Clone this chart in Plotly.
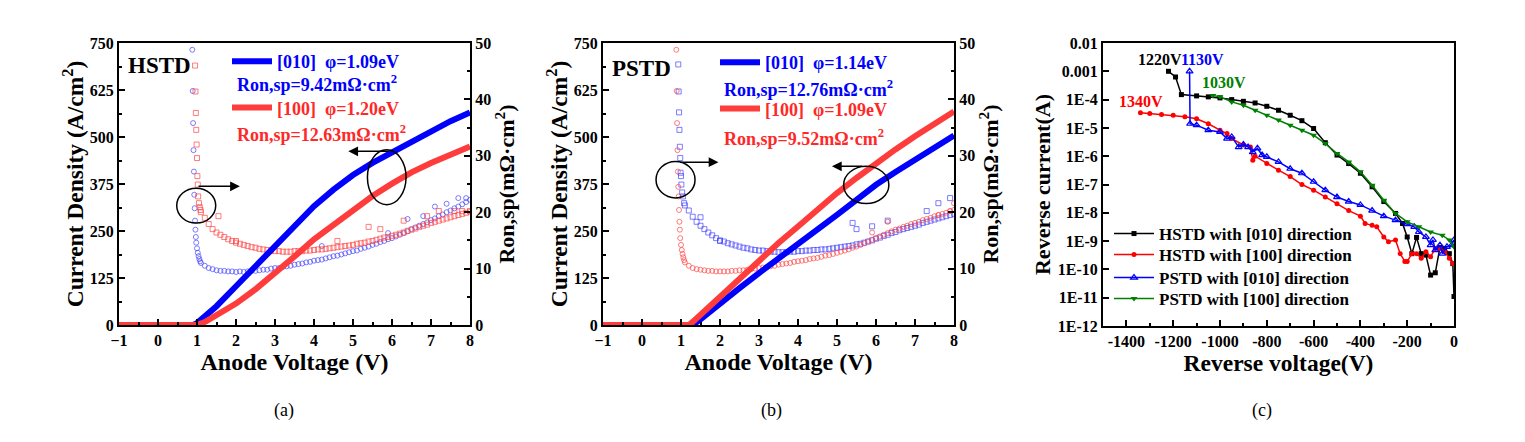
import plotly.graph_objects as go

# ---------------- data: panel (a) HSTD ----------------
a_j_v = [-1.0, 0.0, 0.5, 0.9, 1.0, 1.2, 1.5, 2.0, 2.5, 3.0, 3.5, 4.0, 4.5, 5.0, 5.5, 6.0, 6.5, 7.0, 7.5, 8.0]
a_j_010 = [0, 0, 0, 0, 5, 22, 50, 103, 156, 209, 262, 316, 360, 399, 431, 459, 488, 515, 542, 565]
a_j_100 = [0, 0, 0, 0, 0, 8, 25, 57, 95, 137, 182, 228, 268, 306, 343, 376, 406, 431, 454, 475]

ron_v = [1.1, 1.2, 1.3, 1.4, 1.5, 1.6, 1.7, 1.8, 1.9, 2.0, 2.1, 2.2, 2.3, 2.4, 2.5, 2.6, 2.7, 2.8, 2.9, 3.0,
         3.1, 3.2, 3.3, 3.4, 3.5, 3.6, 3.7, 3.8, 3.9, 4.0, 4.1, 4.2, 4.3, 4.4, 4.5, 4.6, 4.7, 4.8, 4.9, 5.0,
         5.1, 5.2, 5.3, 5.4, 5.5, 5.6, 5.7, 5.8, 5.9, 6.0, 6.1, 6.2, 6.3, 6.4, 6.5, 6.6, 6.7, 6.8, 6.9, 7.0,
         7.1, 7.2, 7.3, 7.4, 7.5, 7.6, 7.7, 7.8, 7.9, 8.0]

a_ron_010_v0 = [0.88, 0.89, 0.90, 0.91, 0.92, 0.93, 0.94, 0.95, 0.96, 0.97, 0.98, 1.00, 1.02, 1.04, 1.06, 1.08]
a_ron_010_0 = [48.8, 41.5, 35.8, 31.0, 27.2, 23.1, 20.7, 18.5, 16.9, 15.6, 14.6, 13.6, 12.8, 12.2, 11.7, 11.3]
a_ron_010 = [11.0, 10.5, 10.1, 9.9, 9.7, 9.6, 9.6, 9.5, 9.5, 9.4, 9.5, 9.4, 9.5, 9.6, 9.6, 9.7, 9.8, 9.8, 10.0, 10.1,
             10.1, 10.3, 10.4, 10.5, 10.7, 10.8, 10.9, 11.1, 11.2, 11.4, 11.5, 11.6, 11.8, 12.0, 12.2, 12.3, 12.5, 12.7, 12.9, 13.1,
             13.2, 13.5, 13.7, 13.9, 14.2, 14.4, 14.7, 14.9, 15.2, 15.4, 15.7, 16.0, 16.3, 16.6, 17.0, 17.3, 17.6, 17.9, 18.2, 18.6,
             18.9, 19.3, 19.6, 20.0, 20.3, 20.7, 21.0, 21.4, 21.8, 22.2]
a_ron_010_out_v = [4.2, 5.9, 6.4, 6.8, 7.1, 7.4, 7.7, 7.9]
a_ron_010_out = [14.0, 16.3, 18.8, 19.3, 21.0, 21.5, 22.5, 22.5]

a_ron_100_v0 = [0.95, 0.96, 0.97, 0.98, 0.99, 1.00, 1.01, 1.02, 1.03, 1.05, 1.07, 1.09]
a_ron_100_0 = [46.0, 41.4, 37.6, 34.6, 32.0, 29.6, 26.4, 24.9, 22.8, 21.6, 20.9, 20.4]
a_ron_100 = [20.0, 19.0, 17.9, 17.0, 16.4, 16.0, 15.6, 15.2, 14.9, 14.6, 14.4, 14.2, 14.0, 13.8, 13.7, 13.5, 13.4, 13.3, 13.2, 13.1,
             13.1, 13.0, 13.0, 13.0, 13.1, 13.1, 13.1, 13.2, 13.2, 13.3, 13.4, 13.4, 13.5, 13.6, 13.7, 13.8, 13.9, 14.0, 14.1, 14.2,
             14.4, 14.5, 14.6, 14.8, 14.9, 15.1, 15.3, 15.5, 15.6, 15.8, 16.0, 16.2, 16.4, 16.7, 16.9, 17.1, 17.4, 17.6, 17.8, 18.1,
             18.3, 18.5, 18.7, 18.9, 19.1, 19.3, 19.5, 19.7, 19.9, 20.1]
a_ron_100_out_v = [1.55, 2.0, 4.6, 5.4, 5.7, 6.3, 6.9, 7.2, 7.6, 7.8, 8.0]
a_ron_100_out = [19.3, 14.9, 14.9, 17.4, 17.0, 18.5, 19.3, 20.2, 20.2, 20.2, 20.2]

# ---------------- data: panel (b) PSTD ----------------
b_j_v = [-1.0, 0.0, 0.5, 1.0, 1.2, 1.3, 1.5, 2.0, 2.5, 3.0, 3.5, 4.0, 4.5, 5.0, 5.5, 6.0, 6.5, 7.0, 7.5, 8.0]
b_j_010 = [0, 0, 0, 0, 0, 0, 15, 58, 98, 138, 176, 214, 253, 293, 333, 373, 407, 440, 472, 504]
b_j_100 = [0, 0, 0, 0, 0, 8, 27, 76, 125, 174, 218, 262, 307, 351, 391, 431, 467, 502, 535, 568]

b_ron_010_v0 = [0.93, 0.94, 0.95, 0.96, 0.97, 0.98, 0.99, 1.00, 1.01, 1.03, 1.05, 1.08]
b_ron_010_0 = [46.2, 41.4, 37.7, 34.6, 31.6, 29.6, 27.0, 26.4, 24.9, 23.5, 22.8, 21.6]
b_ron_010 = [21.2, 20.3, 19.2, 18.3, 17.6, 17.0, 16.4, 15.9, 15.4, 15.0, 14.8, 14.5, 14.3, 14.1, 13.9, 13.7, 13.6, 13.4, 13.3, 13.2,
             13.2, 13.1, 13.0, 13.0, 12.9, 12.9, 12.9, 13.0, 13.0, 13.1, 13.1, 13.2, 13.2, 13.3, 13.3, 13.4, 13.4, 13.5, 13.6, 13.7,
             13.8, 13.9, 14.0, 14.1, 14.3, 14.4, 14.6, 14.8, 15.0, 15.3, 15.5, 15.8, 16.0, 16.3, 16.5, 16.8, 17.0, 17.2, 17.4, 17.6,
             17.8, 18.1, 18.3, 18.5, 18.7, 18.9, 19.1, 19.3, 19.5, 19.7]
b_ron_010_out_v = [1.5, 2.0, 5.4, 5.5, 5.9, 6.3, 7.3, 7.6, 7.9]
b_ron_010_out = [19.1, 14.9, 18.1, 17.0, 17.5, 18.5, 20.2, 21.6, 22.5]

b_ron_100_v0 = [0.88, 0.89, 0.90, 0.91, 0.92, 0.93, 0.94, 0.95, 0.96, 0.97, 0.98, 1.00, 1.02, 1.04, 1.06, 1.08]
b_ron_100_0 = [48.8, 41.5, 35.8, 31.0, 27.2, 24.5, 22.8, 20.4, 18.3, 16.9, 15.4, 14.2, 13.3, 12.6, 12.0, 11.5]
b_ron_100 = [11.1, 10.5, 10.1, 9.9, 9.8, 9.7, 9.6, 9.6, 9.5, 9.5, 9.5, 9.5, 9.6, 9.6, 9.7, 9.7, 9.8, 9.9, 10.0, 10.1,
             10.2, 10.3, 10.4, 10.5, 10.7, 10.8, 10.9, 11.0, 11.2, 11.3, 11.4, 11.5, 11.7, 11.8, 11.9, 12.1, 12.3, 12.4, 12.6, 12.8,
             13.0, 13.2, 13.4, 13.7, 13.9, 14.2, 14.5, 14.8, 15.1, 15.4, 15.7, 16.0, 16.3, 16.6, 16.9, 17.1, 17.4, 17.6, 17.9, 18.1,
             18.3, 18.6, 18.8, 19.0, 19.3, 19.5, 19.7, 19.9, 20.2, 20.4]
b_ron_100_out_v = [5.9, 6.3, 7.6, 7.9, 8.0]
b_ron_100_out = [16.4, 18.3, 19.5, 20.2, 21.6]

# ---------------- data: panel (c) reverse I-V ----------------
c_hstd010_v = [-1220, -1190, -1165, -1100, -1050, -1000, -950, -900, -850, -800, -750, -700, -650, -600, -550, -500,
               -450, -400, -350, -300, -250, -220, -200, -180, -160, -140, -120, -100, -80, -60, -40, -20, -5, 0]
c_hstd010_i = [1.0e-3, 6.3e-4, 1.5e-4, 1.35e-4, 1.25e-4, 1.15e-4, 1.0e-4, 8.7e-5, 7.6e-5, 5.8e-5, 4.2e-5, 2.8e-5,
               1.8e-5, 9.5e-6, 3.0e-6, 1.1e-6, 5.5e-7, 2.5e-7, 8.3e-8, 2.5e-8, 9.5e-9, 4.2e-9, 1.4e-9, 3.6e-10,
               1.35e-9, 3.6e-10, 3.2e-10, 6.3e-11, 7.6e-11, 6.0e-10, 5.5e-10, 3.6e-10, 1.6e-10, 1.1e-11]

c_hstd100_v = [-1340, -1300, -1250, -1200, -1150, -1100, -1050, -1000, -970, -950, -900, -870, -860, -850, -800, -750,
               -700, -650, -600, -550, -500, -450, -400, -380, -350, -330, -300, -280, -250, -230, -210, -200, -180,
               -160, -140, -120, -100, -80, -60, -40, -20, -5]
c_hstd100_i = [3.4e-5, 3.2e-5, 3.0e-5, 2.8e-5, 2.5e-5, 2.1e-5, 1.4e-5, 8.3e-6, 6.3e-6, 4.2e-6, 2.5e-6, 2.1e-6, 7.2e-7,
               1.0e-6, 5.5e-7, 3.2e-7, 1.9e-7, 1.0e-7, 6.3e-8, 3.6e-8, 2.1e-8, 1.2e-8, 7.6e-9, 4.2e-9, 3.6e-9, 3.2e-9,
               1.4e-9, 9.5e-10, 1.1e-9, 3.6e-10, 1.9e-10, 1.9e-10, 3.6e-10, 3.6e-10, 2.5e-10, 4.2e-10, 2.8e-10,
               5.5e-10, 5.5e-10, 4.2e-10, 2.5e-10, 1.6e-10]

c_pstd010_v = [-1130, -1128, -1100, -1050, -1000, -970, -950, -920, -900, -880, -860, -840, -820, -800, -750, -700,
               -650, -600, -550, -500, -450, -400, -350, -300, -250, -200, -170, -150, -120, -100, -90, -80, -60, -50,
               -30, -10, 0]
c_pstd010_i = [1.0e-3, 1.4e-5, 1.25e-5, 8.3e-6, 7.2e-6, 4.2e-6, 4.8e-6, 2.1e-6, 2.6e-6, 2.1e-6, 1.4e-6, 1.9e-6,
               1.1e-6, 9.5e-7, 6.3e-7, 3.6e-7, 2.5e-7, 1.25e-7, 6.3e-8, 3.6e-8, 2.5e-8, 1.9e-8, 1.2e-8, 7.6e-9,
               5.5e-9, 4.0e-9, 3.2e-9, 2.1e-9, 1.4e-9, 7.2e-10, 1.1e-9, 4.8e-10, 7.2e-10, 3.6e-10, 6.3e-10, 7.2e-10, 1.1e-9]

c_pstd100_v = [-1030, -1000, -950, -900, -850, -800, -750, -700, -650, -600, -550, -500, -450, -400, -350, -300,
               -250, -200, -150, -100, -50, -20, 0]
c_pstd100_i = [1.4e-4, 1.25e-4, 8.3e-5, 6.3e-5, 4.2e-5, 2.8e-5, 1.9e-5, 1.25e-5, 8.3e-6, 5.5e-6, 2.8e-6, 1.25e-6,
               6.3e-7, 2.8e-7, 9.5e-8, 2.8e-8, 9.5e-9, 4.8e-9, 3.2e-9, 2.1e-9, 1.6e-9, 1.1e-9, 6.3e-10]

c_ytickvals = [1e-2, 1e-3, 1e-4, 1e-5, 1e-6, 1e-7, 1e-8, 1e-9, 1e-10, 1e-11, 1e-12]
c_yticktext = ["0.01", "0.001", "1E-4", "1E-5", "1E-6", "1E-7", "1E-8", "1E-9", "1E-10", "1E-11", "1E-12"]
c_xtickvals = [-1400, -1200, -1000, -800, -600, -400, -200, 0]
c_xticktext = ["-1400", "-1200", "-1000", "-800", "-600", "-400", "-200", "0"]

# ---------------- page geometry (page has an 8px body margin) ----------------
FW, FH, OFF = 1509, 426, 8

def px(X):
    return (X - OFF) / FW

def py(Y):
    return 1 - (Y - OFF) / FH

# ---------------- styling ----------------
FONT = "Liberation Serif"
BLUE = "rgb(0,0,255)"
RED = "rgb(255,60,60)"
BLUE_M = "rgba(70,70,255,0.7)"
RED_M = "rgba(255,70,70,0.7)"
GREEN = "rgb(0,128,0)"

fig = go.Figure()

def ron_trace(x, y, sym, col, xa, ya):
    return go.Scatter(x=x, y=y, mode="markers", xaxis=xa, yaxis=ya, showlegend=False,
                      marker=dict(symbol=sym, size=5, color=col, line=dict(width=1, color=col)))

# panel a
fig.add_trace(ron_trace(a_ron_010_v0 + ron_v + a_ron_010_out_v, a_ron_010_0 + a_ron_010 + a_ron_010_out,
                        "circle-open", BLUE_M, "x", "y"))
fig.add_trace(ron_trace(a_ron_100_v0 + ron_v + a_ron_100_out_v, a_ron_100_0 + a_ron_100 + a_ron_100_out,
                        "square-open", RED_M, "x", "y"))
fig.add_trace(go.Scatter(x=a_j_v, y=a_j_010, mode="lines", xaxis="x", yaxis="y2", line=dict(color=BLUE, width=6),
                         name="<span style='color:rgb(0,0,255)'>[010]  φ=1.09eV</span>", legend="legend",
                         legendgroup="a1"))
fig.add_trace(go.Scatter(x=a_j_v, y=a_j_100, mode="lines", xaxis="x", yaxis="y2", line=dict(color=RED, width=6),
                         name="<span style='color:rgb(255,40,40)'>[100]  φ=1.20eV</span>", legend="legend",
                         legendgroup="a2"))

# panel b
fig.add_trace(ron_trace(b_ron_010_v0 + ron_v + b_ron_010_out_v, b_ron_010_0 + b_ron_010 + b_ron_010_out,
                        "square-open", BLUE_M, "x2", "y3"))
fig.add_trace(ron_trace(b_ron_100_v0 + ron_v + b_ron_100_out_v, b_ron_100_0 + b_ron_100 + b_ron_100_out,
                        "circle-open", RED_M, "x2", "y3"))
fig.add_trace(go.Scatter(x=b_j_v, y=b_j_010, mode="lines", xaxis="x2", yaxis="y4", line=dict(color=BLUE, width=6),
                         name="<span style='color:rgb(0,0,255)'>[010]  φ=1.14eV</span>", legend="legend2",
                         legendgroup="b1"))
fig.add_trace(go.Scatter(x=b_j_v, y=b_j_100, mode="lines", xaxis="x2", yaxis="y4", line=dict(color=RED, width=6),
                         name="<span style='color:rgb(255,40,40)'>[100]  φ=1.09eV</span>", legend="legend2",
                         legendgroup="b2"))

# panel c
fig.add_trace(go.Scatter(x=c_hstd010_v, y=c_hstd010_i, mode="lines+markers", xaxis="x3", yaxis="y5",
                         line=dict(color="black", width=1.5), marker=dict(symbol="square", size=5, color="black"),
                         name="HSTD with [010] direction", legend="legend3"))
fig.add_trace(go.Scatter(x=c_hstd100_v, y=c_hstd100_i, mode="lines+markers", xaxis="x3", yaxis="y5",
                         line=dict(color="red", width=1.5), marker=dict(symbol="circle", size=5, color="red"),
                         name="HSTD with [100] direction", legend="legend4"))
fig.add_trace(go.Scatter(x=c_pstd010_v, y=c_pstd010_i, mode="lines+markers", xaxis="x3", yaxis="y5",
                         line=dict(color="blue", width=1.5),
                         marker=dict(symbol="triangle-up-open", size=6, color="blue", line=dict(width=1.2)),
                         name="PSTD with [010] direction", legend="legend5"))
fig.add_trace(go.Scatter(x=c_pstd100_v, y=c_pstd100_i, mode="lines+markers", xaxis="x3", yaxis="y5",
                         line=dict(color=GREEN, width=1.5), marker=dict(symbol="triangle-down", size=6, color=GREEN),
                         name="PSTD with [100] direction", legend="legend6"))

TICKF = dict(family=FONT, size=16, color="black", weight="bold")

def tf(size):
    return dict(family=FONT, size=size, color="black", weight="bold")

def xax(domain, rng, dtick, minor, title, anchor):
    return dict(domain=domain, range=rng, dtick=dtick, tick0=0, anchor=anchor, showgrid=False, zeroline=False,
                automargin=False,
                showline=True, linewidth=2, linecolor="black", mirror=True, ticks="inside", ticklen=6, tickwidth=2,
                tickcolor="black", minor=dict(dtick=minor, ticks="inside", ticklen=3, tickwidth=1.5, tickcolor="black"),
                tickfont=TICKF, title=dict(text=title, font=tf(24), standoff=2))

def yax(domain, rng, dtick, minor, title, side, anchor, tsize, standoff, overlaying=None):
    d = dict(range=rng, dtick=dtick, tick0=0, anchor=anchor, side=side, showgrid=False, zeroline=False,
             automargin=False,
             showline=True, linewidth=2, linecolor="black", ticks="inside", ticklen=6, tickwidth=2,
             tickcolor="black", minor=dict(dtick=minor, ticks="inside", ticklen=3, tickwidth=1.5, tickcolor="black"),
             tickfont=TICKF, title=dict(text=title, font=tf(tsize), standoff=standoff))
    if overlaying:
        d["overlaying"] = overlaying
    else:
        d["domain"] = domain
    return d

YDOM = [py(325), py(43)]
RON_T = "Ron,sp(mΩ·cm<sup>2</sup>)"
J_T = "Current Density (A/cm<sup>2</sup>)"

def leg(X, Y, size, **kw):
    d = dict(x=px(X), y=py(Y), xanchor="left", yanchor="top", bgcolor="rgba(0,0,0,0)",
             font=dict(family=FONT, size=size, weight="bold", color="black"), itemwidth=40)
    d.update(kw)
    return d

layout = dict(
    width=FW, height=FH, autosize=False, margin=dict(l=0, r=0, t=0, b=0, autoexpand=False),
    paper_bgcolor="white", plot_bgcolor="rgba(0,0,0,0)",
    font=dict(family=FONT, color="black", weight="bold"),
    xaxis=xax([px(119), px(470)], [-1, 8], 1, 0.5, "Anode Voltage (V)", "y"),
    yaxis=yax(YDOM, [0, 50], 10, 5, RON_T, "right", "x", 22, 7),
    yaxis2=yax(None, [0, 750], 125, 62.5, J_T, "left", "x", 23.5, 0, overlaying="y"),
    xaxis2=xax([px(603), px(954)], [-1, 8], 1, 0.5, "Anode Voltage (V)", "y3"),
    yaxis3=yax(YDOM, [0, 50], 10, 5, RON_T, "right", "x2", 22, 7),
    yaxis4=yax(None, [0, 750], 125, 62.5, J_T, "left", "x2", 23.5, 0, overlaying="y3"),
    xaxis3=dict(domain=[px(1103), px(1454)], range=[-1500, 0], anchor="y5", tickvals=c_xtickvals,
                ticktext=c_xticktext, automargin=False,
                showgrid=False, zeroline=False, showline=True, linewidth=2, linecolor="black", mirror=True,
                ticks="inside", ticklen=6, tickwidth=2, tickcolor="black",
                minor=dict(dtick=100, ticks="inside", ticklen=3, tickwidth=1.5, tickcolor="black"),
                tickfont=tf(16), title=dict(text="Reverse voltage(V)", font=tf(23.5), standoff=2)),
    yaxis5=dict(domain=[py(326), py(43)], type="log", range=[-12, -2], anchor="x3", tickvals=c_ytickvals,
                ticktext=c_yticktext, automargin=False,
                showgrid=False, zeroline=False, showline=True, linewidth=2, linecolor="black",
                mirror=True, ticks="inside", ticklen=6, tickwidth=2, tickcolor="black",
                tickfont=tf(16), title=dict(text="Reverse current(A)", font=tf(22), standoff=1)),
    legend=leg(227, 43, 18, traceorder="grouped", tracegroupgap=20),
    legend2=leg(715, 44, 18, traceorder="grouped", tracegroupgap=20),
    legend3=leg(1109, 216, 17),
    legend4=leg(1109, 237, 17),
    legend5=leg(1109, 260, 17),
    legend6=leg(1109, 281, 17),
)
fig.update_layout(**layout)

ann = []
def txt(x, y, s, size, color="black", xref="paper", yref="paper", weight="bold", xanchor="left"):
    ann.append(dict(x=x, y=y, xref=xref, yref=yref, text=s, showarrow=False, xanchor=xanchor, yanchor="middle",
                    font=dict(family=FONT, size=size, color=color, weight=weight)))

txt(px(126), py(65), "HSTD", 23)
txt(px(610), py(68), "PSTD", 23)
txt(px(235), py(83), "Ron,sp=9.42mΩ·cm<sup>2</sup>", 18, BLUE)
txt(px(235), py(133), "Ron,sp=12.63mΩ·cm<sup>2</sup>", 18, "rgb(255,40,40)")
txt(px(722), py(88), "Ron,sp=12.76mΩ·cm<sup>2</sup>", 18, BLUE)
txt(px(722), py(137), "Ron,sp=9.52mΩ·cm<sup>2</sup>", 18, "rgb(255,40,40)")
txt(px(284), py(410), "(a)", 18, weight="normal", xanchor="center")
txt(px(771), py(410), "(b)", 18, weight="normal", xanchor="center")
txt(px(1262), py(410), "(c)", 18, weight="normal", xanchor="center")
# panel c labels
txt(-1359, -2.59, "1220V", 16, "black", "x3", "y5")
txt(-1175, -2.59, "1130V", 16, "blue", "x3", "y5")
txt(-1085, -3.41, "1030V", 16, GREEN, "x3", "y5")
txt(-1440, -4.08, "1340V", 16, "red", "x3", "y5")

def arrow(x, y, ax, ay, xr, yr):
    ann.append(dict(x=x, y=y, ax=ax, ay=ay, xref=xr, yref=yr, axref=xr, ayref=yr, text="", showarrow=True,
                    arrowhead=2, arrowsize=1.3, arrowwidth=1.5, arrowcolor="black"))

arrow(2.1, 369, 1.0, 369, "x", "y2")
arrow(4.88, 462, 5.95, 462, "x", "y2")
arrow(1.96, 433, 0.94, 433, "x2", "y4")
arrow(4.87, 422, 5.68, 422, "x2", "y4")
fig.update_layout(annotations=ann)

shapes = [
    dict(type="circle", xref="x", yref="y2", x0=0.48, x1=1.48, y0=271, y1=364, line=dict(color="black", width=1.5)),
    dict(type="circle", xref="x", yref="y2", x0=5.37, x1=6.36, y0=320, y1=466, line=dict(color="black", width=1.5)),
    dict(type="circle", xref="x2", yref="y4", x0=0.36, x1=1.36, y0=338, y1=435, line=dict(color="black", width=1.5)),
    dict(type="circle", xref="x2", yref="y4", x0=5.17, x1=6.33, y0=323, y1=422, line=dict(color="black", width=1.5)),
]
fig.update_layout(shapes=shapes)

fig.write_html("out.html")
